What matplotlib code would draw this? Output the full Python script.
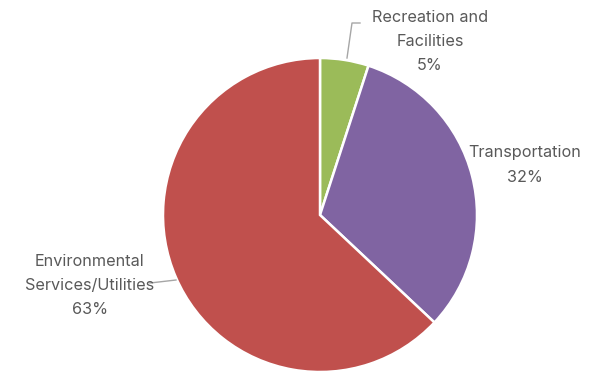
import matplotlib
matplotlib.use("Agg")
import matplotlib.pyplot as plt

categories = ["Recreation and\nFacilities", "Transportation", "Environmental\nServices/Utilities"]
values = [5, 32, 63]
colors = ["#9BBB59", "#8064A2", "#C0504D"]

W, H = 596, 375
fig = plt.figure(figsize=(W / 100, H / 100), dpi=100)
ax = fig.add_axes([0, 0, 1, 1])
ax.set_xlim(0, W)
ax.set_ylim(0, H)
ax.set_aspect("equal")
ax.axis("off")

cx, cy, r = 320, H - 215, 157
ax.pie(values, colors=colors, startangle=90, counterclock=False,
       center=(cx, cy), radius=r, frame=True,
       wedgeprops=dict(edgecolor="white", linewidth=1.8))
ax.set_xlim(0, W)
ax.set_ylim(0, H)
ax.axis("off")

txt = dict(color="#595959", fontsize=11.7, family=["Inter", "DejaVu Sans"],
           ha="center", va="center", linespacing=1.75)
label_pos = [(430, 42), (525, 165), (90, 285)]
for cat, v, (px, py) in zip(categories, values, label_pos):
    ax.text(px, H - py, f"{cat}\n{v}%", **txt)

lc = "#A6A6A6"
ax.plot([347, 352, 360], [H - 58, H - 23, H - 23], color=lc, lw=1)
ax.plot([150, 176], [H - 283, H - 280], color=lc, lw=1)

fig.savefig("out.png", dpi=100)
